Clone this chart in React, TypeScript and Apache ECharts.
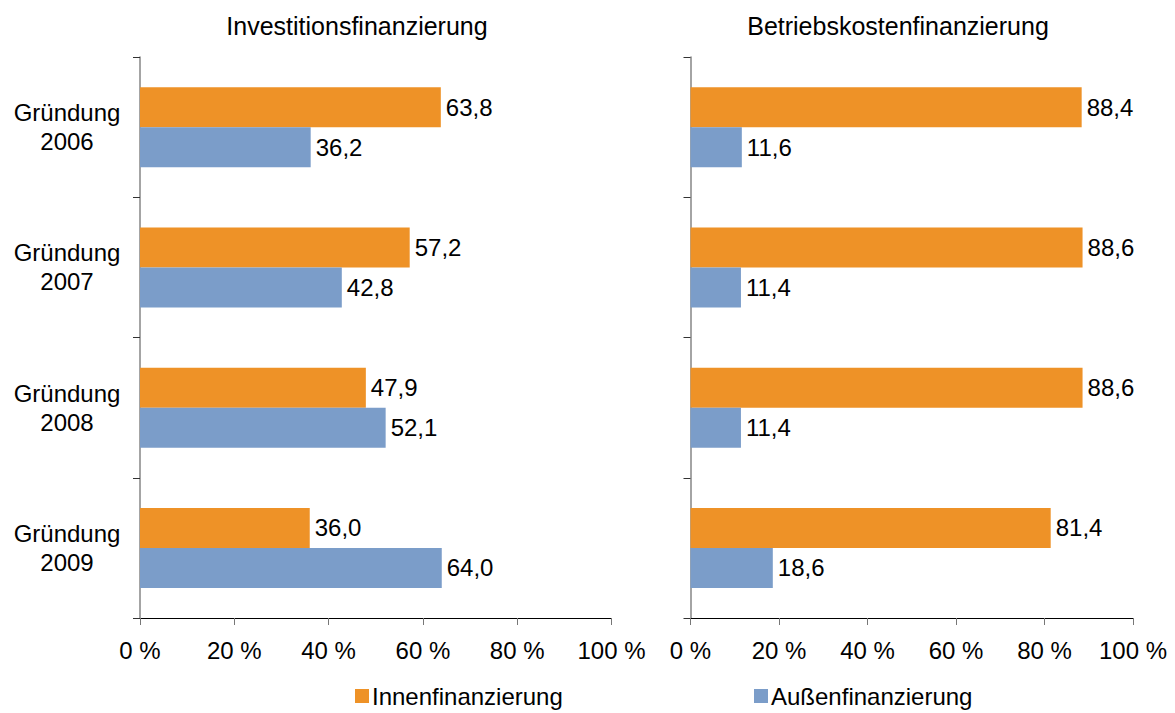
import React, { useEffect, useRef } from "react";
import * as echarts from "echarts";

const categories = ["Gründung\n2006", "Gründung\n2007", "Gründung\n2008", "Gründung\n2009"];
const investInnen = [63.8, 57.2, 47.9, 36.0];
const investAussen = [36.2, 42.8, 52.1, 64.0];
const betriebInnen = [88.4, 88.6, 88.6, 81.4];
const betriebAussen = [11.6, 11.4, 11.4, 18.6];
const seriesNames = ["Innenfinanzierung", "Außenfinanzierung"];
const titles = ["Investitionsfinanzierung", "Betriebskostenfinanzierung"];

const ORANGE = "#EE9227";
const BLUE = "#7B9DC9";
const FONT = "Liberation Sans, Arial, sans-serif";
const FS = 24;

export default function App() {
  const ref = useRef<HTMLDivElement>(null);
  useEffect(() => {
    document.body.style.margin = "0";
    const chart = echarts.init(ref.current!, undefined, { renderer: "svg" });
    const fmt = (p: any) => Number(p.value).toFixed(1).replace(".", ",");
    const label = {
      show: true,
      position: "right",
      distance: 5,
      color: "#000",
      fontSize: FS,
      fontFamily: FONT,
      formatter: fmt,
    };
    const xAxisBase = {
      type: "value",
      min: 0,
      max: 100,
      interval: 20,
      axisLine: { show: true, lineStyle: { color: "#000", width: 1 } },
      axisTick: { show: true, length: 7, lineStyle: { color: "#777" } },
      splitLine: { show: false },
      axisLabel: {
        formatter: (v: number) => `${v} %`,
        color: "#000",
        fontSize: FS,
        fontFamily: FONT,
        margin: 20,
      },
    };
    const yAxisBase = {
      type: "category",
      data: categories,
      inverse: true,
      axisLine: { show: true, lineStyle: { color: "#868686", width: 1.5 } },
      axisTick: { show: true, length: 7, inside: false, lineStyle: { color: "#333" } },
    };
    const titleStyle = { fontSize: 25, fontFamily: FONT, fill: "#000", textAlign: "center", textVerticalAlign: "middle" };
    const legendText = { fontSize: FS, fontFamily: FONT, color: "#000", padding: [0, 0, 0, -2] };
    chart.setOption({
      animation: false,
      backgroundColor: "#fff",
      textStyle: { fontFamily: FONT },
      graphic: [
        { type: "text", x: 357, y: 26, style: { text: titles[0], ...titleStyle } },
        { type: "text", x: 898, y: 26, style: { text: titles[1], ...titleStyle } },
      ],
      legend: [
        {
          data: [seriesNames[0]],
          left: 350,
          top: 679,
          itemWidth: 14,
          itemHeight: 14,
          icon: "rect",
          textStyle: legendText,
        },
        {
          data: [seriesNames[1]],
          left: 749,
          top: 679,
          itemWidth: 14,
          itemHeight: 14,
          icon: "rect",
          textStyle: legendText,
        },
      ],
      grid: [
        { left: 140, width: 471.5, top: 57, height: 561 },
        { left: 690.5, width: 442.5, top: 57, height: 561 },
      ],
      xAxis: [
        { ...xAxisBase, gridIndex: 0 },
        { ...xAxisBase, gridIndex: 1 },
      ],
      yAxis: [
        {
          ...yAxisBase,
          gridIndex: 0,
          axisLabel: {
            color: "#000",
            fontSize: FS,
            fontFamily: FONT,
            align: "center",
            margin: 73,
            lineHeight: 29,
          },
        },
        { ...yAxisBase, gridIndex: 1, axisLabel: { show: false } },
      ],
      series: [
        { name: seriesNames[0], type: "bar", xAxisIndex: 0, yAxisIndex: 0, data: investInnen, barWidth: 40, barGap: "0%", itemStyle: { color: ORANGE }, label },
        { name: seriesNames[1], type: "bar", xAxisIndex: 0, yAxisIndex: 0, data: investAussen, barWidth: 40, barGap: "0%", itemStyle: { color: BLUE }, label },
        { name: seriesNames[0], type: "bar", xAxisIndex: 1, yAxisIndex: 1, data: betriebInnen, barWidth: 40, barGap: "0%", itemStyle: { color: ORANGE }, label },
        { name: seriesNames[1], type: "bar", xAxisIndex: 1, yAxisIndex: 1, data: betriebAussen, barWidth: 40, barGap: "0%", itemStyle: { color: BLUE }, label },
      ],
    });
    return () => chart.dispose();
  }, []);
  return <div ref={ref} style={{ width: 1175, height: 713 }} />;
}
